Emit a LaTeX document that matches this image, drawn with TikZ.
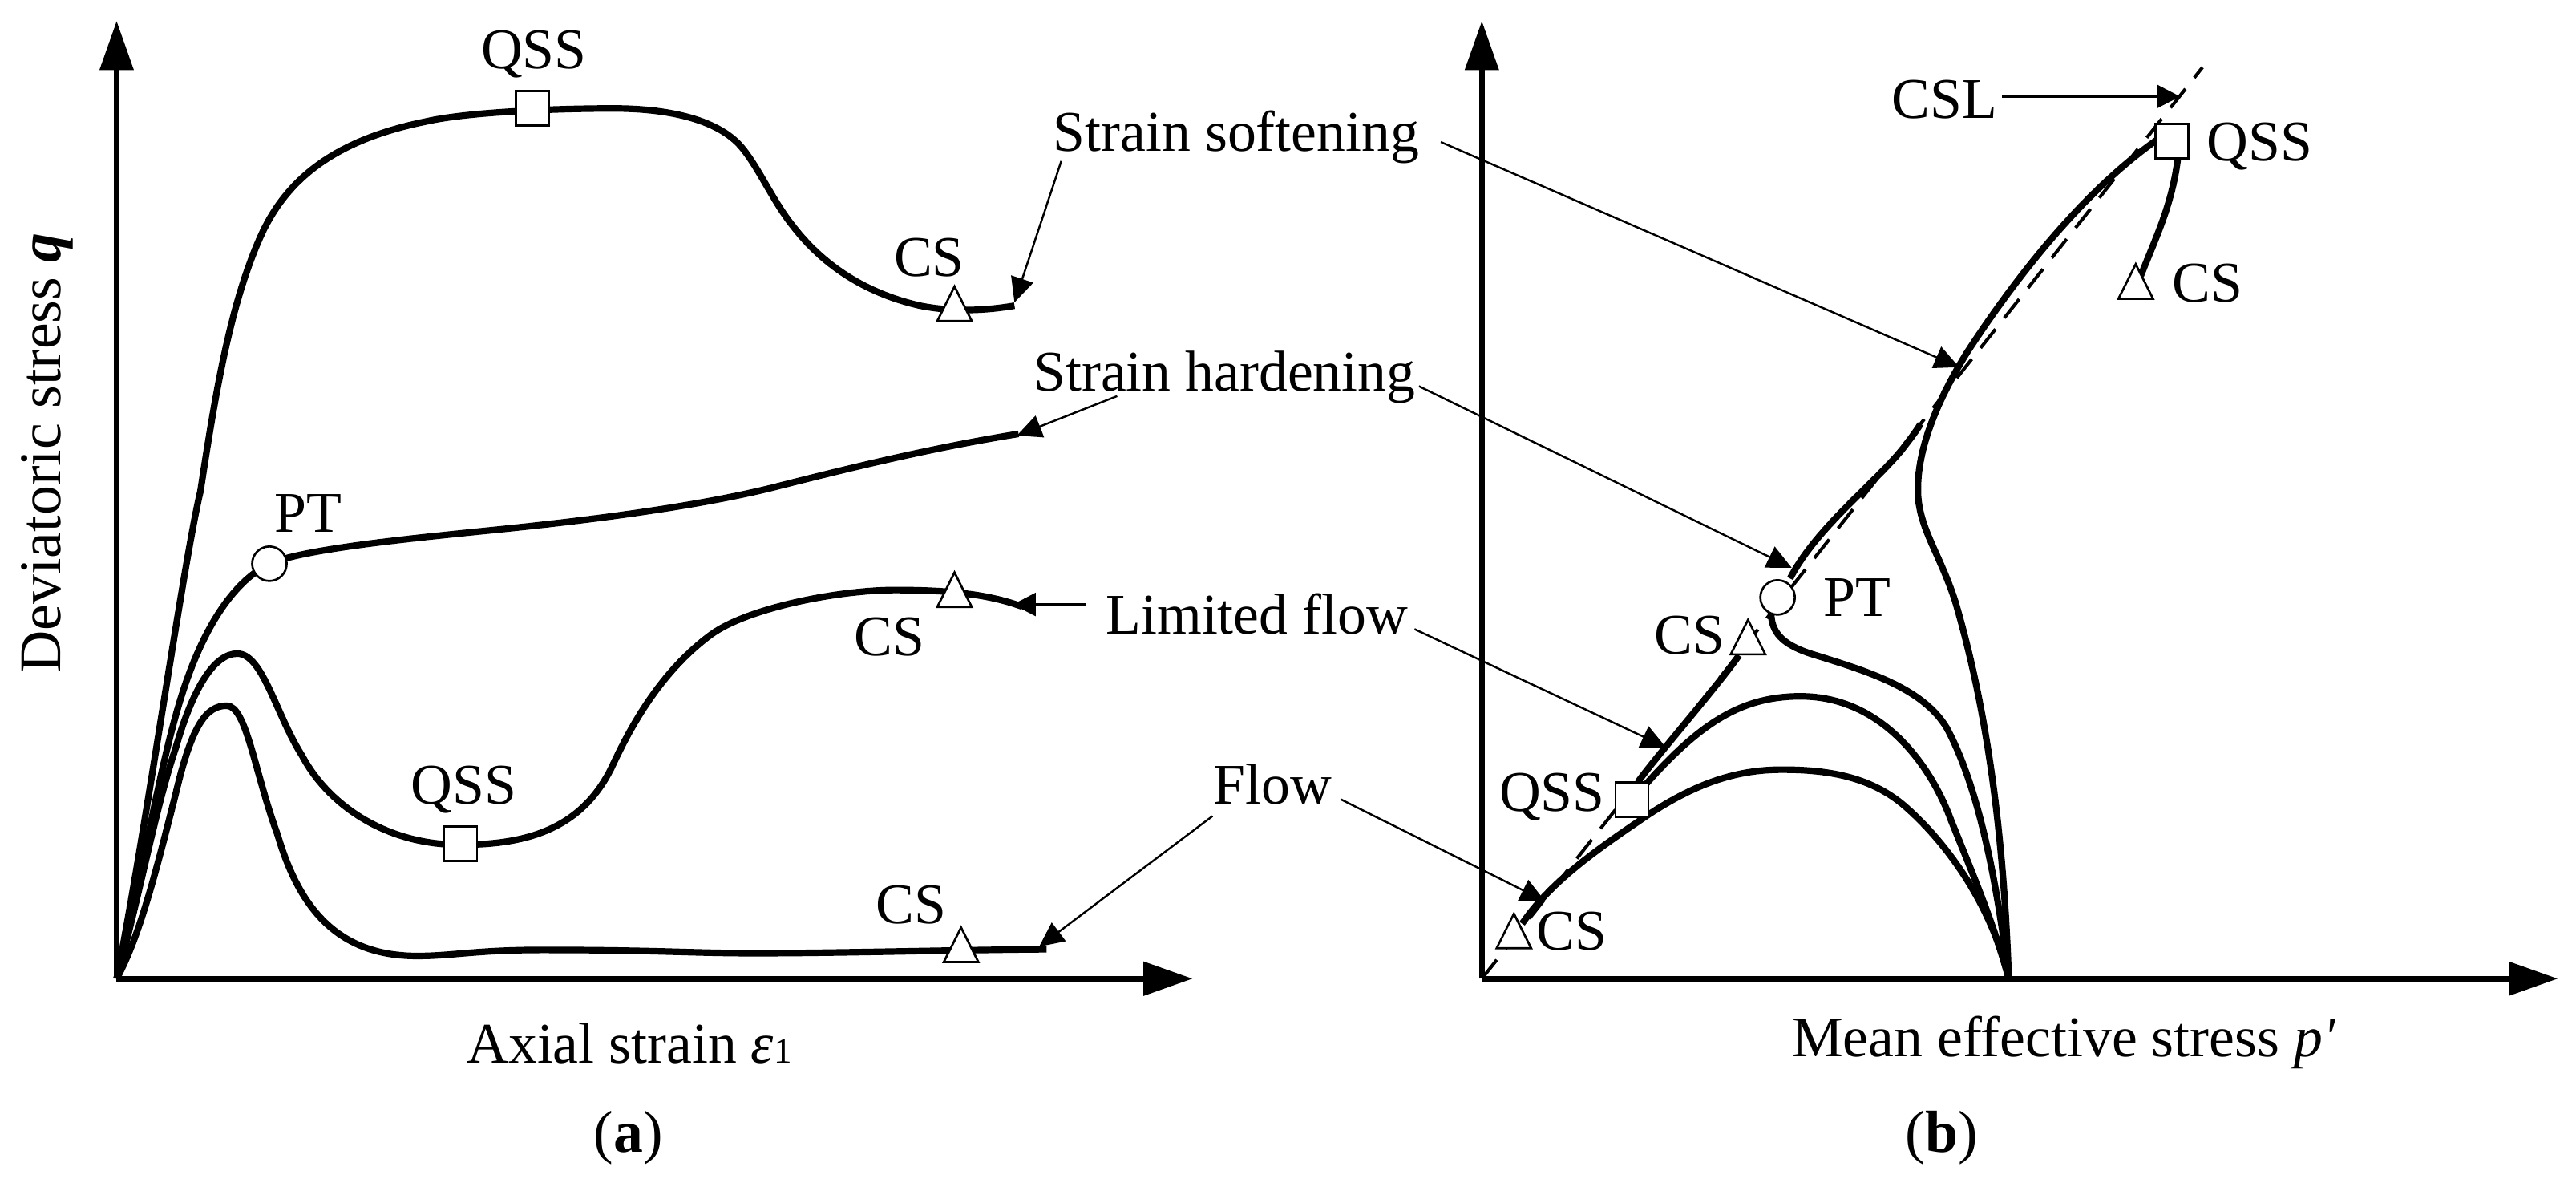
\documentclass[tikz,border=0pt]{standalone}
\usepackage{fontspec}
\setmainfont{Liberation Serif}
\newfontfamily\pf{Liberation Serif}
\usetikzlibrary{arrows.meta,shapes.geometric}
\tikzset{
  axisline/.style={line width=3.6pt,-{Triangle[length=30pt,width=20pt]}},
  curve/.style={line width=4pt,line join=round},
  csl/.style={line width=2pt,dash pattern=on 14.6pt off 8.7pt},
  leader/.style={line width=1.2pt,-{Triangle[length=15pt,width=14pt]}},
  boldleader/.style={line width=1.7pt,-{Triangle[length=14pt,width=14pt]}},
  lab/.style={anchor=base west,inner sep=0pt,font=\fontsize{35}{35}\selectfont},
  labc/.style={anchor=base,inner sep=0pt,font=\fontsize{35}{35}\selectfont},
  sq/.style={draw,fill=white,line width=1.3pt,rectangle,inner sep=0pt,minimum width=20pt,minimum height=21pt},
  circ/.style={draw,fill=white,line width=1.3pt,circle,inner sep=0pt,minimum size=21pt},
  tri/.style={draw,fill=white,line width=1.3pt,isosceles triangle,isosceles triangle stretches,shape border rotate=90,inner sep=0pt,minimum width=21pt,minimum height=21pt,anchor=lower side}
}
\begin{document}
\begin{tikzpicture}[x=1pt,y=-1pt]
\useasboundingbox (0,0) rectangle (1568,716.9);
% axes coordinates
\coordinate (Ao) at (71,595.5);
\coordinate (Ay) at (71,12.7);
\coordinate (Ax) at (726,595.5);
\coordinate (Bo) at (902,595.5);
\coordinate (By) at (902,12.7);
\coordinate (Bx) at (1557,595.5);
\coordinate (Bc) at (1222.7,595.5);
\coordinate (Ct) at (1340.6,41);
% panel a curves
\draw[curve] (Ao) .. controls (88,510) and (112,340) .. (122,299)
  .. controls (131,240) and (140,185) .. (159,143)
  .. controls (175,108) and (205,85) .. (259,74)
  .. controls (285,68) and (340,66) .. (373.5,66)
  .. controls (405,66) and (435,72) .. (450,88)
  .. controls (461,100) and (470,122) .. (483,138)
  .. controls (500,160) and (525,178) .. (560,186)
  .. controls (580,190) and (600,189) .. (617.5,186);
\draw[curve] (Ao) .. controls (85,545) and (97,460) .. (114,413)
  .. controls (124,385) and (140,355) .. (164,343)
  .. controls (190,332) and (280,325) .. (324,320)
  .. controls (370,315) and (430,307) .. (473,296)
  .. controls (520,284) and (570,272) .. (620,264);
\draw[curve] (Ao) .. controls (85,545) and (95,490) .. (107,455)
  .. controls (117,420) and (130,397.7) .. (144.4,397.7)
  .. controls (160,397.7) and (168,435) .. (184,460)
  .. controls (200,490) and (235,514) .. (280,514)
  .. controls (320,514) and (355,505) .. (373.5,464.4)
  .. controls (385,440) and (403,408) .. (433,386)
  .. controls (455,370) and (510,359) .. (545,359)
  .. controls (575,359) and (600,361) .. (622,369);
\draw[curve] (Ao) .. controls (85,570) and (95,530) .. (107,482.8)
  .. controls (117,440) and (126,429.4) .. (138,429.4)
  .. controls (150,429.4) and (155,470) .. (169,508)
  .. controls (182,552) and (205,581.7) .. (254,581.7)
  .. controls (275,581.7) and (290,578) .. (330,578)
  .. controls (400,578) and (420,580) .. (460,580)
  .. controls (510,580) and (580,578) .. (637,577.6);
\draw[axisline] (Ao) -- (Ay);
\draw[axisline] (Ao) -- (Ax);
% panel b curves
\draw[csl] (Bo) -- (Ct);
\draw[curve] (Bc) .. controls (1220,520) and (1212,440) .. (1190,365.5)
  .. controls (1180,335) and (1167,320) .. (1167.4,297)
  .. controls (1167.6,265) and (1187,231) .. (1197.6,214)
  .. controls (1225,172) and (1270,112) .. (1322,79);
\draw[curve] (1325.6,96.7) .. controls (1322,125) and (1312,145) .. (1303,168);
\draw[curve] (Bc) .. controls (1216,540) and (1205,480) .. (1185,443)
  .. controls (1170,418) and (1135,408) .. (1102,397.7)
  .. controls (1085,392) and (1078,385) .. (1078,372);
\draw[curve] (1089.6,352) .. controls (1105,322) and (1140,295) .. (1157.4,274)
  .. controls (1162,268) and (1166,263) .. (1169,258);
\draw[curve] (Bc) .. controls (1213,560) and (1200,530) .. (1187.5,498.9)
  .. controls (1175,465) and (1145,423.7) .. (1096,423.7)
  .. controls (1060,423.7) and (1035,440) .. (1002,477);
\draw[curve] (996.8,476) .. controls (1010,458) and (1045,418) .. (1058.5,398.8);
\draw[curve] (Bc) .. controls (1212,550) and (1185,513) .. (1160,491)
  .. controls (1138,471.6) and (1110,468.3) .. (1084.6,468.3)
  .. controls (1055,468.3) and (1030,478) .. (1002,496.6)
  .. controls (975,515) and (945,535) .. (926.5,562);
\draw[axisline] (Bo) -- (By);
\draw[axisline] (Bo) -- (Bx);
% markers panel a
\node[sq] (sa1) at (324,66) {};
\node[sq] (sa2) at (280.4,513.5) {};
\node[circ] (ca1) at (164,343) {};
\node[tri] (ta1) at (581,196) {};
\node[tri] (ta2) at (581,370) {};
\node[tri] (ta3) at (585,586) {};
% markers panel b
\node[sq] (sb1) at (1322,86) {};
\node[sq] (sb2) at (993.4,486.5) {};
\node[circ] (cb1) at (1082,363.5) {};
\node[tri] (tb1) at (1300,182.4) {};
\node[tri] (tb2) at (1064,398.8) {};
\node[tri] (tb3) at (921.5,577.6) {};
% labels panel a
\node[labc] (qssa1) at (325,41.5) {QSS};
\node[lab] (csa1) at (544,168) {CS};
\node[lab] (pta) at (167,324) {PT};
\node[lab] (soft) at (641,92) {Strain softening};
\node[lab] (hard) at (629,238) {Strain hardening};
\node[lab] (lim) at (673,386) {Limited flow};
\node[lab] (csa2) at (520,398.8) {CS};
\node[lab] (qssa2) at (250,489) {QSS};
\node[lab] (csa3) at (533,562) {CS};
\node[lab] (flow) at (738.5,489) {Flow};
\node[lab] (xa) at (284,647) {Axial strain \textit{ε}{\fontsize{22}{22}\selectfont 1}};
\node[labc,font=\fontsize{36}{36}\selectfont] (capa) at (382.5,701) {(\textbf{a})};
\node[anchor=base,rotate=90,inner sep=0pt,font=\fontsize{36}{36}\selectfont] (ya) at (37,275.7) {Deviatoric stress \textbf{\textit{q}}};
% labels panel b
\node[lab] (csl) at (1151.4,72) {CSL};
\node[lab] (qssb1) at (1343,98) {QSS};
\node[lab] (csb1) at (1322,183.5) {CS};
\node[lab] (ptb) at (1110,375) {PT};
\node[lab] (csb2) at (1007,398) {CS};
\node[lab] (qssb2) at (912.4,493.6) {QSS};
\node[lab] (csb3) at (935,578) {CS};
\node[lab] (xb) at (1090.6,643) {Mean effective stress {\pf\itshape p'}};
\node[labc,font=\fontsize{36}{36}\selectfont] (capb) at (1182,701) {(\textbf{b})};
% leader ends
\coordinate (s1) at (646,98);
\coordinate (s1t) at (617.5,184);
\coordinate (h1) at (680,241);
\coordinate (h1t) at (619,265);
\coordinate (l1) at (661,367.8);
\coordinate (l1t) at (616.5,367.8);
\coordinate (f1) at (738,496.6);
\coordinate (f1t) at (632.5,576);
\coordinate (s2) at (877,86.4);
\coordinate (s2t) at (1192.5,223.4);
\coordinate (h2) at (863.7,235);
\coordinate (h2t) at (1090.6,345.5);
\coordinate (l2) at (861,382.8);
\coordinate (l2t) at (1014,454.7);
\coordinate (f2) at (816,486.3);
\coordinate (f2t) at (940.5,548.4);
\coordinate (c1) at (1218.6,58.7);
\coordinate (c1t) at (1327,58.7);
\draw[leader] (s1) -- (s1t);
\draw[leader] (h1) -- (h1t);
\draw[boldleader] (l1) -- (l1t);
\draw[leader] (f1) -- (f1t);
\draw[leader] (s2) -- (s2t);
\draw[leader] (h2) -- (h2t);
\draw[leader] (l2) -- (l2t);
\draw[leader] (f2) -- (f2t);
\draw[boldleader] (c1) -- (c1t);
\end{tikzpicture}
\end{document}
